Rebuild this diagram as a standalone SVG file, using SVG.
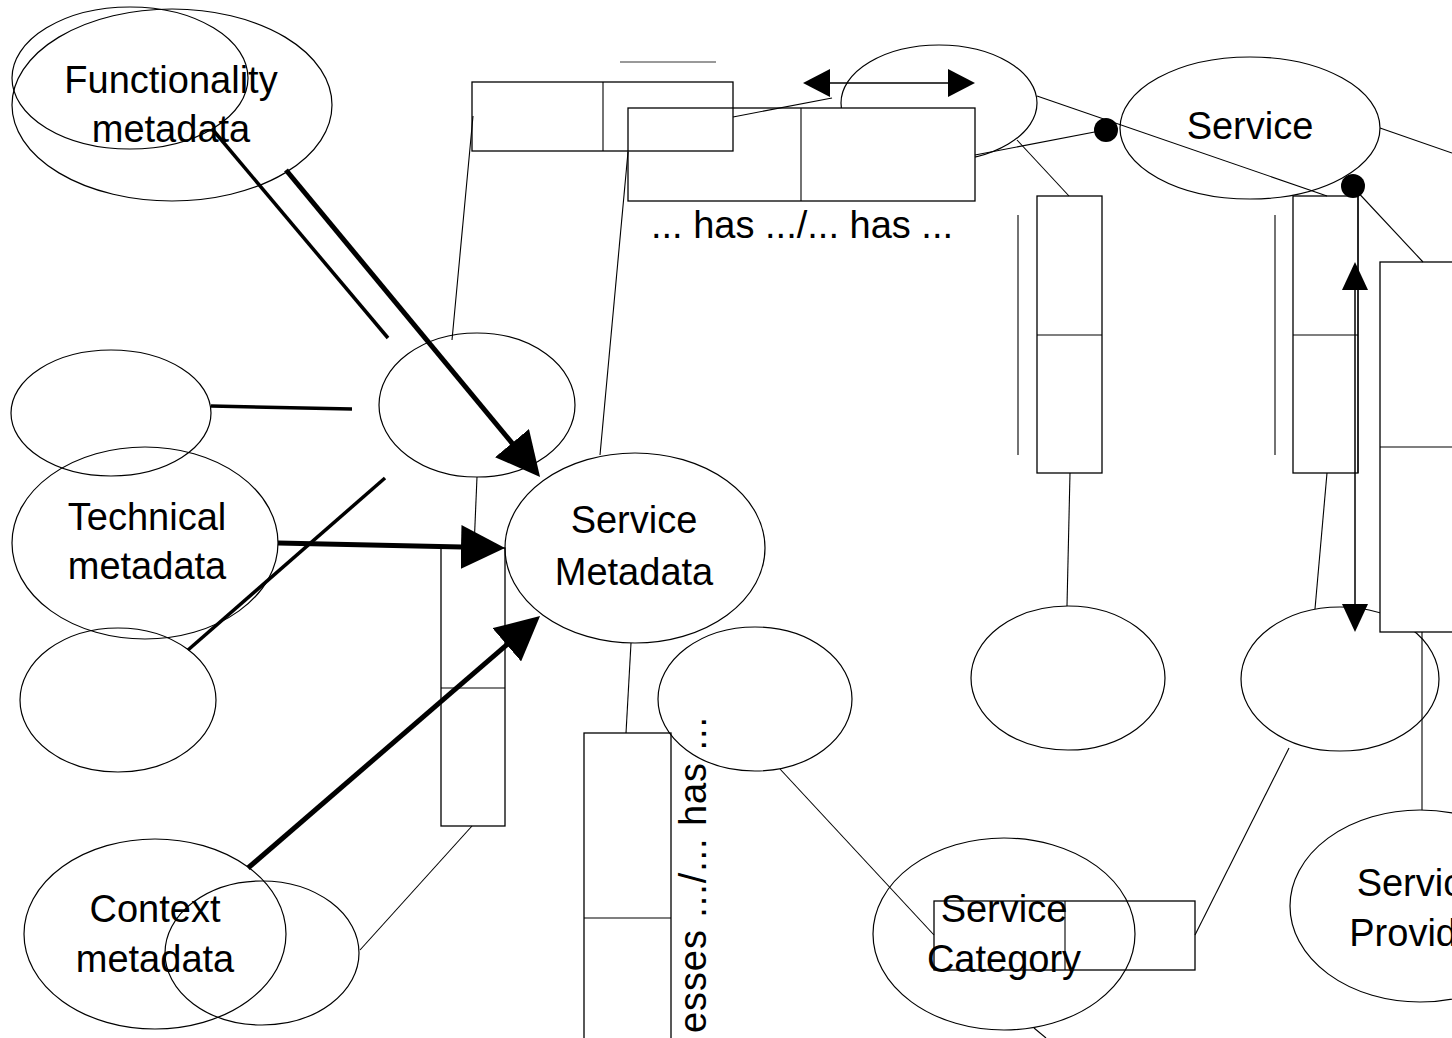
<svg xmlns="http://www.w3.org/2000/svg" width="1452" height="1038" viewBox="0 0 1452 1038">
  <style>
    .el { fill: none; stroke: #000; stroke-width: 1.2; }
    .elw { fill: #fff; stroke: #000; stroke-width: 1.2; }
    .bx { fill: none; stroke: #000; stroke-width: 1.3; }
    .bxw { fill: #fff; stroke: #000; stroke-width: 1.3; }
    .thin { fill: none; stroke: #000; stroke-width: 1.1; }
    .bold { fill: none; stroke: #000; stroke-width: 3.5; }
    .heavy { fill: none; stroke: #000; stroke-width: 5; }
    .lbl { font-family: "Liberation Sans", Arial, sans-serif; font-size: 38px; fill: #000; text-anchor: middle; }
    .head { fill: #000; stroke: none; }
  </style>
  <defs>
    <marker id="bigHead" markerUnits="userSpaceOnUse" viewBox="0 0 44 44" refX="24" refY="22" markerWidth="44" markerHeight="44" orient="auto">
      <path d="M0,0 L44,22 L0,44 z" fill="#000"/>
    </marker>
  </defs>

  <rect width="1452" height="1038" fill="#fff"/>

  <!-- left column: metadata kinds -->
  <g id="functionality-metadata">
    <ellipse class="el" cx="130" cy="78" rx="118" ry="71"/>
    <ellipse class="el" cx="172" cy="105" rx="160" ry="96"/>
    <text class="lbl" x="171" y="93">Functionality</text>
    <text class="lbl" x="171" y="142">metadata</text>
  </g>
  <g id="blank-upper-left">
    <ellipse class="el" cx="111" cy="413" rx="100" ry="63"/>
  </g>
  <g id="technical-metadata">
    <ellipse class="el" cx="145" cy="543" rx="133" ry="96"/>
    <text class="lbl" x="147" y="530">Technical</text>
    <text class="lbl" x="147" y="579">metadata</text>
  </g>
  <g id="blank-lower-left">
    <ellipse class="el" cx="118" cy="700" rx="98" ry="72"/>
  </g>
  <g id="context-metadata">
    <ellipse class="el" cx="155" cy="934" rx="131" ry="95"/>
    <ellipse class="el" cx="262" cy="953" rx="97" ry="72"/>
    <text class="lbl" x="155" y="922">Context</text>
    <text class="lbl" x="155" y="972">metadata</text>
  </g>

  <!-- centre -->
  <g id="blank-centre">
    <ellipse class="el" cx="477" cy="405" rx="98" ry="72"/>
  </g>
  <g id="relation-box-left">
    <rect class="bx" x="441" y="548" width="64" height="278"/>
    <line class="thin" x1="441" y1="688" x2="505" y2="688"/>
  </g>
  <g id="service-metadata">
    <ellipse class="el" cx="635" cy="548" rx="130" ry="95"/>
    <text class="lbl" x="634" y="533">Service</text>
    <text class="lbl" x="634" y="585">Metadata</text>
  </g>
  <g id="blank-centre-lower">
    <ellipse class="el" cx="755" cy="699" rx="97" ry="72"/>
  </g>
  <g id="relation-box-vertical">
    <rect class="bx" x="584" y="733" width="87" height="320"/>
    <line class="thin" x1="584" y1="918" x2="671" y2="918"/>
    <text class="lbl" transform="translate(706,717) rotate(-90)" x="0" y="0" style="text-anchor:end" textLength="316" lengthAdjust="spacing">esses .../... has ...</text>
  </g>

  <!-- top: relation boxes -->
  <g id="blank-top">
    <ellipse class="el" cx="939" cy="103" rx="98" ry="58"/>
  </g>
  <g id="relation-box-top-right">
    <rect class="bxw" x="628" y="108" width="347" height="93"/>
    <line class="thin" x1="801" y1="108" x2="801" y2="201"/>
    <text class="lbl" x="802" y="238">... has .../... has ...</text>
  </g>
  <g id="relation-box-top-left">
    <rect class="bx" x="472" y="82" width="261" height="69"/>
    <line class="thin" x1="603" y1="82" x2="603" y2="151"/>
    <line x1="620" y1="62" x2="716" y2="62" stroke="#777" stroke-width="1.6"/>
  </g>

  <!-- right side -->
  <g id="service">
    <ellipse class="el" cx="1250" cy="128" rx="130" ry="71"/>
    <text class="lbl" x="1250" y="139">Service</text>
  </g>
  <g id="relation-box-right-1">
    <rect class="bx" x="1037" y="196" width="65" height="277"/>
    <line class="thin" x1="1037" y1="335" x2="1102" y2="335"/>
    <line class="thin" x1="1018" y1="215" x2="1018" y2="455"/>
  </g>
  <g id="relation-box-right-2">
    <rect class="bx" x="1293" y="196" width="65" height="277"/>
    <line class="thin" x1="1293" y1="335" x2="1358" y2="335"/>
    <line class="thin" x1="1275" y1="215" x2="1275" y2="455"/>
  </g>
  <g id="blank-right-1">
    <ellipse class="el" cx="1068" cy="678" rx="97" ry="72"/>
  </g>
  <g id="blank-right-2">
    <ellipse class="el" cx="1340" cy="679" rx="99" ry="72"/>
  </g>
  <g id="relation-box-far-right">
    <rect class="bxw" x="1380" y="262" width="90" height="370"/>
    <line class="thin" x1="1380" y1="447" x2="1470" y2="447"/>
  </g>
  <g id="service-provider">
    <ellipse class="el" cx="1420" cy="906" rx="130" ry="96"/>
    <text class="lbl" x="1420" y="896">Service</text>
    <text class="lbl" x="1420" y="946">Provider</text>
  </g>
  <g id="service-category">
    <ellipse class="el" cx="1004" cy="934" rx="131" ry="96"/>
    <rect class="bx" x="934" y="901" width="261" height="69"/>
    <line class="thin" x1="1065" y1="901" x2="1065" y2="970"/>
    <text class="lbl" x="1004" y="922">Service</text>
    <text class="lbl" x="1004" y="972">Category</text>
  </g>

  <!-- connectors -->
  <g id="connectors">
    <!-- thin links -->
    <line class="thin" x1="473" y1="116" x2="452" y2="340"/>
    <line class="thin" x1="628" y1="152" x2="600" y2="455"/>
    <line class="thin" x1="477" y1="477" x2="474" y2="548"/>
    <line class="thin" x1="472" y1="826" x2="360" y2="950"/>
    <line class="thin" x1="631" y1="643" x2="626" y2="733"/>
    <line class="thin" x1="780" y1="769" x2="934" y2="935"/>
    <line class="thin" x1="733" y1="117" x2="832" y2="98"/>
    <line class="thin" x1="975" y1="155" x2="1105" y2="130"/>
    <line class="thin" x1="1037" y1="96" x2="1327" y2="196"/>
    <line class="thin" x1="1017" y1="140" x2="1069" y2="196"/>
    <line class="thin" x1="1380" y1="128" x2="1452" y2="153"/>
    <line class="thin" x1="1352" y1="186" x2="1423" y2="262"/>
    <line class="thin" x1="1070" y1="473" x2="1067" y2="606"/>
    <line class="thin" x1="1327" y1="473" x2="1315" y2="609"/>
    <line class="thin" x1="1422" y1="632" x2="1422" y2="810"/>
    <line class="thin" x1="1289" y1="748" x2="1195" y2="935"/>
    <line class="thin" x1="1034" y1="1028" x2="1046" y2="1038"/>
    <line class="thin" x1="1358" y1="186" x2="1358" y2="473"/>

    <!-- double-headed arrows -->
    <line x1="828" y1="83" x2="950" y2="83" stroke="#000" stroke-width="1.5"/>
    <polygon class="head" points="803,83 830,69 830,97"/>
    <polygon class="head" points="975,83 948,69 948,97"/>
    <line x1="1355" y1="288" x2="1355" y2="606" stroke="#000" stroke-width="1.5"/>
    <polygon class="head" points="1355,262 1342,290 1368,290"/>
    <polygon class="head" points="1355,632 1342,604 1368,604"/>

    <!-- association dots -->
    <circle cx="1106" cy="130" r="12" fill="#000"/>
    <circle cx="1353" cy="186" r="12" fill="#000"/>

    <!-- bold links -->
    <line class="bold" x1="213" y1="130" x2="388" y2="338"/>
    <line class="bold" x1="211" y1="406" x2="352" y2="409"/>
    <line class="bold" x1="188" y1="650" x2="385" y2="478"/>

    <!-- metadata arrows into Service Metadata -->
    <line class="heavy" x1="286" y1="170" x2="527.3" y2="461.6" marker-end="url(#bigHead)"/>
    <line class="heavy" x1="278" y1="543" x2="485" y2="547.6" marker-end="url(#bigHead)"/>
    <line class="heavy" x1="248" y1="868" x2="524.9" y2="629.1" marker-end="url(#bigHead)"/>
  </g>
</svg>
